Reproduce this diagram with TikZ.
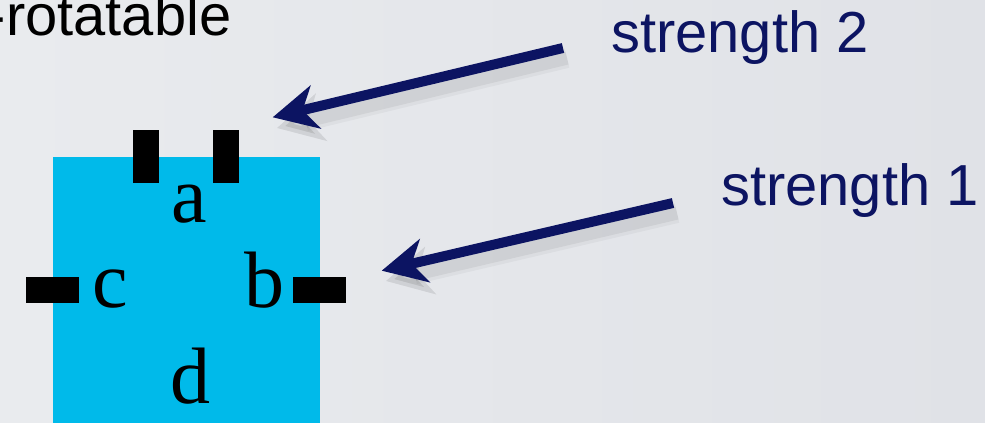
\documentclass[tikz,border=0pt]{standalone}
\usepackage{fontspec}
\setmainfont{Liberation Serif}
\newfontfamily\arialfont{Liberation Sans}
\usetikzlibrary{arrows.meta}
\definecolor{navy}{RGB}{12,20,98}
\definecolor{cellblue}{RGB}{0,186,234}
\definecolor{bgA}{RGB}{233,235,238}
\definecolor{bgB}{RGB}{224,226,231}
\tikzset{
  cell/.style={rectangle, fill=cellblue, draw=none, inner sep=0pt, minimum width=200.6pt, minimum height=200.6pt},
  vtab/.style={rectangle, fill=black, draw=none, inner sep=0pt, minimum width=20pt, minimum height=40pt},
  htab/.style={rectangle, fill=black, draw=none, inner sep=0pt, minimum width=40pt, minimum height=19.5pt},
  portlbl/.style={anchor=base, inner sep=0pt, font=\fontsize{60}{66}\selectfont},
  sanslbl/.style={anchor=base west, inner sep=0pt, font=\arialfont\fontsize{43.4}{48}\selectfont},
  bigarrow/.style={draw=navy, line width=7.5pt, -{Stealth[length=33pt,width=33pt,inset=10pt]}},
  arrowshadow/.style={draw=black, opacity=0.06, line width=10pt, -{Stealth[length=34pt,width=36pt,inset=10pt]}}
}
\begin{document}
\begin{tikzpicture}[x=0.75pt,y=-0.75pt]
\useasboundingbox (0,0) rectangle (985,423);
\shade[left color=bgA, right color=bgB] (0,0) rectangle (985,423);

% cell and ports
\node[cell] (box) at (186.25,290.5) {};
\node[vtab] (ta1) at (146,156.7) {};
\node[vtab] (ta2) at (226,156.7) {};
\node[htab] (tc) at (52.7,290.3) {};
\node[htab] (tb) at (319.3,290.3) {};

\node[portlbl] (la) at (189,223) {a};
\node[portlbl] (lc) at (110,308) {c};
\node[portlbl] (lb) at (264,308) {b};
\node[portlbl] (ld) at (190,404) {d};

% texts
\node[sanslbl, text=black] (rot) at (-13.5,36) {-rotatable};
\node[sanslbl, text=navy] (s2) at (611,52.7) {strength 2};
\node[sanslbl, text=navy] (s1) at (721,206) {strength 1};

% arrows
\coordinate (t2) at (563,48);
\coordinate (h2) at (272.7,117.3);
\coordinate (t1) at (673,203);
\coordinate (h1) at (381.7,270.7);
\coordinate (t2s) at (567,58);
\coordinate (h2s) at (277,128);
\coordinate (t1s) at (677,213);
\coordinate (h1s) at (386,281);

\draw[arrowshadow] (t2s) -- (h2s);
\draw[arrowshadow, line width=15pt, opacity=0.035] (t2s) -- (h2s);
\draw[arrowshadow] (t1s) -- (h1s);
\draw[arrowshadow, line width=15pt, opacity=0.035] (t1s) -- (h1s);

\draw[bigarrow] (t2) -- (h2);
\draw[bigarrow] (t1) -- (h1);
\end{tikzpicture}
\end{document}
